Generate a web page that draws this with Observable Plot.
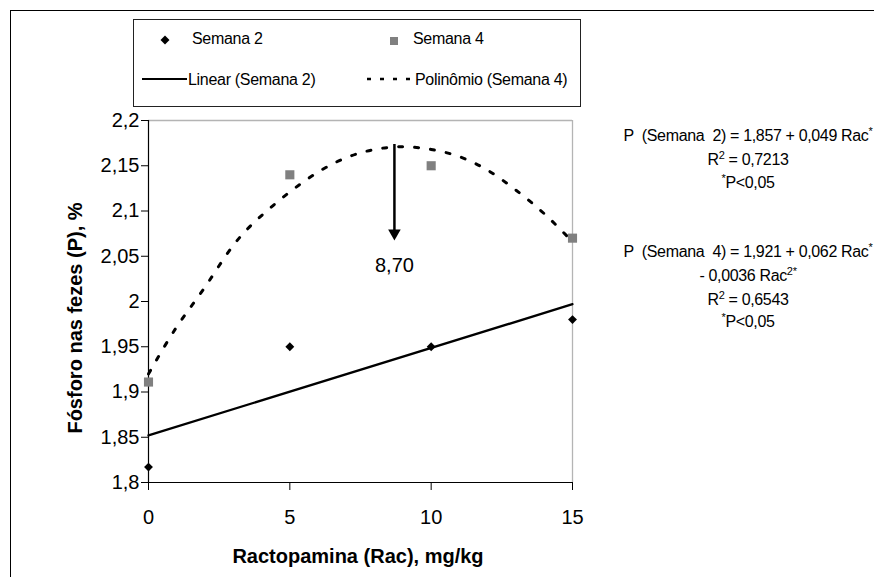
<!DOCTYPE html>
<html><head><meta charset="utf-8">
<script src="https://cdn.jsdelivr.net/npm/d3@7"></script>
<script src="https://cdn.jsdelivr.net/npm/@observablehq/plot@0.6"></script>
<style>
html,body{margin:0;padding:0;background:#fff;overflow:hidden;}
#wrap{position:relative;width:874px;height:577px;overflow:hidden;}
</style></head>
<body><div id="wrap"></div>
<script>
// ---- data ----
const xTicks = [0, 5, 10, 15];
const xTickLabels = ["0", "5", "10", "15"];
const yTicks = [1.8, 1.85, 1.9, 1.95, 2, 2.05, 2.1, 2.15, 2.2];
const yTickLabels = ["1,8", "1,85", "1,9", "1,95", "2", "2,05", "2,1", "2,15", "2,2"];
const rac = [0, 5, 10, 15];
const semana2 = [1.817, 1.95, 1.95, 1.98];
const semana4 = [1.911, 2.14, 2.15, 2.07];
const linearX = [0, 15];
const linearY = [1.852, 1.997];
const polyX = [0, 1, 2, 3, 4, 5, 6, 7, 8, 9, 10, 11, 12, 13, 14, 15];
const polyY = [1.920, 1.972, 2.016, 2.062, 2.095, 2.121, 2.143, 2.159, 2.168, 2.171, 2.168, 2.160, 2.145, 2.123, 2.097, 2.066];
const arrowX = [8.70];
const arrowTop = [2.1735];
const arrowHead = [2.0755];
const arrowLabelY = [2.040];
const arrowLabel = ["8,70"];
const xLabel = "Ractopamina (Rac), mg/kg";
const yLabel = "Fósforo nas fezes (P), %";
const legendLabels = ["Semana 2", "Semana 4", "Linear (Semana 2)", "Polinômio (Semana 4)"];
const eqBlock1 = [
  [["P  (Semana  2) = 1,857 + 0,049 Rac", 0], ["*", 1]],
  [["R", 0], ["2", 1], [" = 0,7213", 0]],
  [["*", 1], ["P<0,05", 0]]
];
const eqBlock2 = [
  [["P  (Semana  4) = 1,921 + 0,062 Rac", 0], ["*", 1]],
  [["- 0,0036 Rac", 0], ["2*", 1]],
  [["R", 0], ["2", 1], [" = 0,6543", 0]],
  [["*", 1], ["P<0,05", 0]]
];

const FONT = '"Liberation Sans", Arial, sans-serif';
const ax = (d) => xTickLabels[xTicks.findIndex(t => Math.abs(t - d) < 1e-9)];
const ay = (d) => yTickLabels[yTicks.findIndex(t => Math.abs(t - d) < 1e-9)];

const s2 = rac.map((x, i) => ({x, y: semana2[i]}));
const s4 = rac.map((x, i) => ({x, y: semana4[i]}));
const lin = linearX.map((x, i) => ({x, y: linearY[i]}));
const poly = polyX.map((x, i) => ({x, y: polyY[i]}));
const arr = arrowX.map((x, i) => ({x, y1: arrowTop[i], y2: arrowHead[i], ly: arrowLabelY[i], t: arrowLabel[i]}));

const chart = Plot.plot({
  width: 874, height: 577,
  marginLeft: 148, marginRight: 302, marginTop: 120, marginBottom: 95,
  style: {fontFamily: FONT, background: "#fff", color: "#000", overflow: "visible"},
  x: {domain: [0, 15]},
  y: {domain: [1.8, 2.2]},
  marks: [
    Plot.ruleY([2.2], {stroke: "#b4b4b4", strokeWidth: 1.3}),
    Plot.ruleX([15], {stroke: "#b4b4b4", strokeWidth: 1.3}),
    Plot.axisY({ticks: yTicks, tickFormat: ay, tickSize: 7, tickPadding: 2, fontSize: 20, label: null}),
    Plot.axisX({ticks: xTicks, tickFormat: ax, tickSize: 8, tickPadding: 19, fontSize: 20, label: null}),
    Plot.ruleX([0], {stroke: "#000", strokeWidth: 1.2}),
    Plot.ruleY([1.8], {stroke: "#000", strokeWidth: 1.2}),
    Plot.line(poly, {x: "x", y: "y", curve: "natural", stroke: "#000", strokeWidth: 3, strokeDasharray: "4,12"}),
    Plot.line(lin, {x: "x", y: "y", stroke: "#000", strokeWidth: 2.3}),
    Plot.ruleX(arr, {x: "x", y1: "y1", y2: "y2", stroke: "#000", strokeWidth: 2.5}),
    Plot.dot(arr, {x: "x", y: "y2", symbol: "triangle2", rotate: 180, r: 6, fill: "#000"}),
    Plot.text(arr, {x: "x", y: "ly", text: "t", fontSize: 20, fill: "#000"}),
    Plot.dot(s2, {x: "x", y: "y", symbol: "square2", rotate: 45, r: 4, fill: "#000"}),
    Plot.dot(s4, {x: "x", y: "y", symbol: "square2", r: 5.8, fill: "#808080"})
  ]
});
document.getElementById("wrap").appendChild(chart);

// ---- annotations, legend, frame ----
const svg = d3.select(chart);
const g = svg.append("g").attr("font-family", FONT).attr("fill", "#000").attr("text-anchor", "start");

// outer frame
g.append("line").attr("x1", 10).attr("x2", 880).attr("y1", 10.5).attr("y2", 10.5).attr("stroke", "#000");
g.append("line").attr("x1", 10.5).attr("x2", 10.5).attr("y1", 10).attr("y2", 600).attr("stroke", "#000");

// axis titles
g.append("text").attr("transform", "translate(75,318) rotate(-90)")
  .attr("text-anchor", "middle").attr("dominant-baseline", "central")
  .attr("font-weight", "bold").attr("font-size", 20).text(yLabel);
g.append("text").attr("x", 358).attr("y", 556)
  .attr("text-anchor", "middle").attr("dominant-baseline", "central")
  .attr("font-weight", "bold").attr("font-size", 20).text(xLabel);

// legend
const L = g.append("g");
L.append("rect").attr("x", 133.5).attr("y", 19.5).attr("width", 447).attr("height", 87)
  .attr("fill", "#fff").attr("stroke", "#222").attr("stroke-width", 1);
L.append("path").attr("d", d3.symbol(d3.symbolSquare, 40)()).attr("transform", "translate(165,40) rotate(45)").attr("fill", "#000");
L.append("rect").attr("x", 390).attr("y", 37).attr("width", 8).attr("height", 8).attr("fill", "#808080");
L.append("line").attr("x1", 142).attr("x2", 187).attr("y1", 79).attr("y2", 79).attr("stroke", "#000").attr("stroke-width", 2.2);
L.append("line").attr("x1", 367).attr("x2", 414).attr("y1", 79).attr("y2", 79).attr("stroke", "#000").attr("stroke-width", 2.5).attr("stroke-dasharray", "4,9");
const legPos = [[192, 38], [413, 38], [188, 79], [415, 79]];
legendLabels.forEach((t, i) => {
  L.append("text").attr("x", legPos[i][0]).attr("y", legPos[i][1]).attr("dominant-baseline", "central")
    .attr("text-anchor", "start")
    .attr("font-size", 16).attr("letter-spacing", -0.3).style("white-space", "pre").text(t);
});

// equations
function eqLine(parts, cx, cy) {
  const t = g.append("text").attr("x", cx).attr("y", cy).attr("text-anchor", "middle")
    .attr("font-size", 16).attr("letter-spacing", -0.35).style("white-space", "pre");
  let up = false;
  parts.forEach(([s, sup]) => {
    const ts = t.append("tspan").text(s);
    if (sup && !up) { ts.attr("dy", -6).attr("font-size", 11); up = true; }
    else if (sup) { ts.attr("font-size", 11); }
    else if (!sup && up) { ts.attr("dy", 6); up = false; }
  });
}
const b1y = [141, 165, 188];
eqBlock1.forEach((p, i) => eqLine(p, 748, b1y[i]));
const b2y = [257, 281, 305, 327];
eqBlock2.forEach((p, i) => eqLine(p, 748, b2y[i]));
</script>
</body></html>
